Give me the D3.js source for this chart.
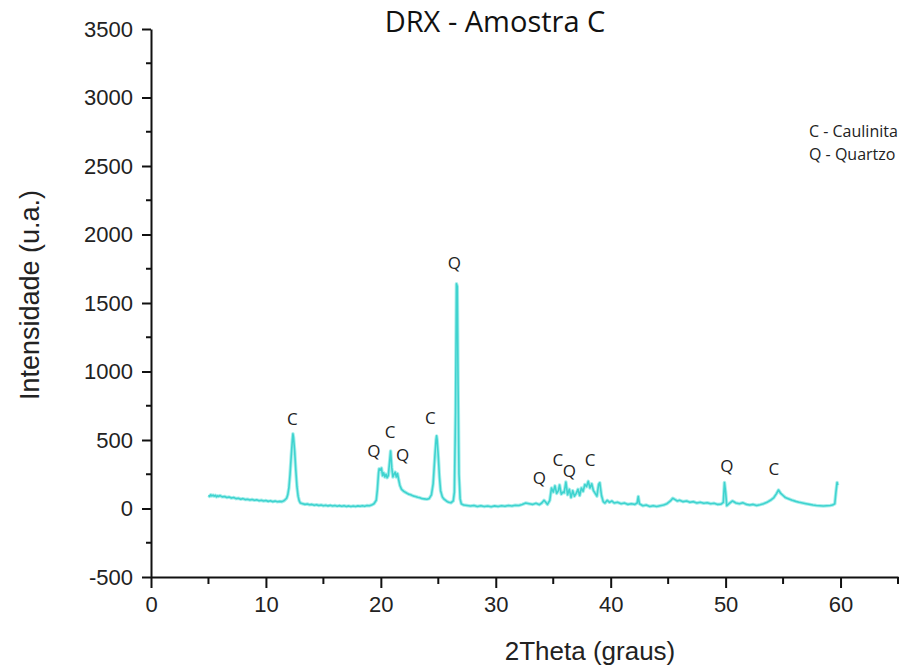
<!DOCTYPE html>
<html>
<head>
<meta charset="utf-8">
<script src="https://cdn.jsdelivr.net/npm/d3@7"></script>
<style>
  body { margin: 0; background: #fff; }
  svg { display: block; }
</style>
</head>
<body>
<svg width="924" height="668"></svg>
<script>
// DRX pattern of sample C
const twoTheta = [
  5.0, 5.1, 5.2, 5.3, 5.4, 5.5, 5.6, 5.7, 5.8, 5.9, 6.0, 6.2, 6.4, 6.6, 6.8, 7.0, 7.2, 7.4, 7.6, 7.8,
  8.0, 8.2, 8.4, 8.6, 8.8, 9.0, 9.2, 9.4, 9.6, 9.8, 10.0, 10.2, 10.4, 10.6, 10.8, 11.0, 11.2, 11.4, 11.6, 11.8,
  11.9, 12.0, 12.1, 12.2, 12.3, 12.35, 12.4, 12.5, 12.6, 12.7, 12.8, 12.9, 13.0, 13.2, 13.4, 13.6, 13.8, 14.0, 14.2, 14.4,
  14.6, 14.8, 15.0, 15.2, 15.4, 15.6, 15.8, 16.0, 16.2, 16.4, 16.6, 16.8, 17.0, 17.2, 17.4, 17.6, 17.8, 18.0, 18.2, 18.4,
  18.6, 18.8, 19.0, 19.2, 19.4, 19.6, 19.7, 19.8, 19.85, 19.95, 20.05, 20.15, 20.25, 20.35, 20.45, 20.55, 20.65, 20.75, 20.85, 20.95,
  21.05, 21.15, 21.25, 21.35, 21.45, 21.55, 21.65, 21.8, 22.0, 22.2, 22.4, 22.6, 22.8, 23.0, 23.2, 23.4, 23.6, 23.8, 24.0, 24.2,
  24.4, 24.55, 24.7, 24.8, 24.85, 24.9, 25.0, 25.1, 25.2, 25.35, 25.5, 25.7, 25.9, 26.1, 26.3, 26.4, 26.5, 26.58, 26.65, 26.72,
  26.8, 26.9, 27.0, 27.2, 27.5, 27.8, 28.1, 28.4, 28.7, 29.0, 29.3, 29.6, 29.9, 30.2, 30.5, 30.8, 31.1, 31.4, 31.7, 32.0,
  32.3, 32.6, 32.9, 33.2, 33.5, 33.8, 34.0, 34.2, 34.35, 34.5, 34.7, 34.85, 35.0, 35.15, 35.3, 35.45, 35.55, 35.7, 35.85, 35.95,
  36.1, 36.25, 36.4, 36.55, 36.7, 36.85, 37.0, 37.15, 37.3, 37.45, 37.6, 37.75, 37.9, 38.05, 38.2, 38.35, 38.5, 38.65, 38.8, 38.95,
  39.05, 39.2, 39.35, 39.5, 39.7, 39.9, 40.1, 40.3, 40.6, 40.9, 41.2, 41.5, 41.8, 42.1, 42.3, 42.4, 42.5, 42.8, 43.1, 43.4,
  43.7, 44.0, 44.3, 44.6, 44.9, 45.2, 45.4, 45.6, 45.8, 46.0, 46.3, 46.6, 46.9, 47.2, 47.5, 47.8, 48.1, 48.4, 48.7, 49.0,
  49.3, 49.6, 49.8, 49.9, 50.0, 50.1, 50.3, 50.6, 50.9, 51.2, 51.5, 51.8, 52.1, 52.4, 52.7, 53.0, 53.3, 53.6, 53.9, 54.2,
  54.4, 54.6, 54.8, 55.0, 55.2, 55.5, 55.8, 56.1, 56.4, 56.7, 57.0, 57.3, 57.6, 57.9, 58.2, 58.5, 58.8, 59.1, 59.3, 59.5,
  59.6, 59.7, 59.75
];
const intensity = [
  95, 88, 100, 92, 98, 90, 96, 85, 92, 88, 94, 85, 88, 80, 84, 76, 80, 72, 75, 68,
  72, 65, 68, 62, 66, 60, 63, 57, 60, 55, 58, 52, 56, 50, 54, 49, 52, 50, 58, 75,
  100, 150, 250, 380, 500, 545, 520, 420, 280, 160, 90, 55, 40, 35, 30, 33, 27, 30, 24, 28,
  22, 26, 20, 24, 19, 23, 18, 22, 17, 21, 16, 20, 15, 19, 14, 18, 15, 19, 16, 20,
  17, 22, 20, 26, 35, 60, 140, 260, 290, 280, 295, 240, 260, 230, 250, 225, 240, 330, 420, 300,
  230, 250, 265, 230, 255, 210, 170, 140, 125, 115, 105, 100, 92, 88, 82, 78, 72, 70, 68, 72,
  100, 180, 380, 500, 530, 500, 380, 230, 130, 85, 68, 55, 45, 42, 55, 120, 700, 1640, 1620, 900,
  250, 70, 35, 25, 22, 18, 22, 15, 20, 14, 18, 13, 19, 15, 20, 16, 22, 18, 24, 22,
  30, 40, 35, 30, 38, 28, 40, 60, 45, 30, 60, 150, 120, 165, 110, 130, 172, 105, 120, 115,
  193, 100, 140, 80, 130, 90, 110, 140, 95, 150, 125, 175, 160, 198, 150, 180, 130, 110, 90, 175,
  188, 95, 50, 40, 60, 45, 55, 40, 45, 35, 40, 30, 35, 30, 40, 88, 35, 20, 25, 15,
  20, 15, 20, 25, 35, 55, 75, 65, 55, 60, 50, 55, 45, 50, 40, 45, 38, 42, 35, 38,
  30, 32, 45, 190, 120, 20, 35, 55, 40, 35, 42, 30, 25, 30, 22, 28, 35, 45, 60, 80,
  105, 135, 110, 95, 80, 70, 60, 52, 45, 40, 35, 30, 25, 22, 20, 18, 20, 22, 25, 35,
  120, 190, 170
];

// peak markers: phase letter, 2theta position, intensity of the label
const peakNames = ["C", "Q", "C", "Q", "C", "Q", "Q", "C", "Q", "C", "Q", "C"];
const peakTheta = [12.3, 19.4, 20.8, 21.9, 24.3, 26.4, 33.8, 35.4, 36.4, 38.2, 50.1, 54.2];
const peakLevel = [640, 410, 550, 380, 650, 1780, 210, 340, 260, 340, 300, 280];

const legendLines = ["C - Caulinita", "Q - Quartzo"];

const xTicks = [0, 10, 20, 30, 40, 50, 60];
const yTicks = [-500, 0, 500, 1000, 1500, 2000, 2500, 3000, 3500];

const svg = d3.select("svg");

const x = d3.scaleLinear().domain([0, 65]).range([151, 898]);
const y = d3.scaleLinear().domain([-500, 3500]).range([577, 29]);

const pts = twoTheta.map((t, i) => [t, intensity[i]]);
const line = d3.line().x(d => x(d[0])).y(d => y(d[1]));

// curve, with a pale halo like the scanned plot
svg.append("path")
  .datum(pts)
  .attr("fill", "none")
  .attr("stroke", "#a8efec")
  .attr("stroke-width", 3.5)
  .attr("stroke-linejoin", "round")
  .attr("d", line);

svg.append("path")
  .datum(pts)
  .attr("fill", "none")
  .attr("stroke", "#3fd3cf")
  .attr("stroke-width", 1.6)
  .attr("stroke-linejoin", "round")
  .attr("d", line);

// axes
const xAxis = svg.append("g")
  .attr("transform", "translate(0," + y(-500) + ")")
  .call(d3.axisBottom(x).tickValues(xTicks).tickFormat(d => String(d))
    .tickSize(11).tickSizeOuter(0).tickPadding(8));
xAxis.append("g").selectAll("line")
  .data(d3.range(5, 66, 10))
  .join("line")
    .attr("x1", d => x(d)).attr("x2", d => x(d))
    .attr("y1", 0).attr("y2", 7)
    .attr("stroke", "#111").attr("stroke-width", 2);

const yAxis = svg.append("g")
  .attr("transform", "translate(" + x(0) + ",0)")
  .call(d3.axisLeft(y).tickValues(yTicks).tickFormat(d => String(d))
    .tickSize(9).tickSizeOuter(0).tickPadding(9));
yAxis.append("g").selectAll("line")
  .data(d3.range(-250, 3500, 500))
  .join("line")
    .attr("x1", -5).attr("x2", 0)
    .attr("y1", d => y(d)).attr("y2", d => y(d))
    .attr("stroke", "#111").attr("stroke-width", 2);

svg.selectAll(".domain").attr("stroke", "#111").attr("stroke-width", 2);
svg.selectAll(".tick line").attr("stroke", "#111").attr("stroke-width", 2);
svg.selectAll(".tick text")
  .attr("font-family", "'Liberation Sans', Arial, sans-serif")
  .attr("font-size", 22)
  .attr("fill", "#222");

// titles
svg.append("text")
  .attr("x", 495).attr("y", 32)
  .attr("text-anchor", "middle")
  .attr("font-family", "'Open Sans', sans-serif")
  .attr("font-size", 29)
  .attr("fill", "#111")
  .text("DRX - Amostra C");

svg.append("text")
  .attr("x", 590).attr("y", 660)
  .attr("text-anchor", "middle")
  .attr("font-family", "'Liberation Sans', Arial, sans-serif")
  .attr("font-size", 26)
  .attr("fill", "#222")
  .text("2Theta (graus)");

svg.append("text")
  .attr("transform", "translate(39,295) rotate(-90)")
  .attr("text-anchor", "middle")
  .attr("font-family", "'Liberation Sans', Arial, sans-serif")
  .attr("font-size", 27)
  .attr("fill", "#222")
  .text("Intensidade (u.a.)");

// peak letters
svg.append("g").selectAll("text")
  .data(peakNames)
  .join("text")
    .attr("x", (d, i) => x(peakTheta[i]))
    .attr("y", (d, i) => y(peakLevel[i]))
    .attr("text-anchor", "middle")
    .attr("dominant-baseline", "middle")
    .attr("font-family", "'Open Sans', sans-serif")
    .attr("font-size", 17)
    .attr("fill", "#222")
    .text(d => d);

// legend text
svg.append("g").selectAll("text")
  .data(legendLines)
  .join("text")
    .attr("x", 809)
    .attr("y", (d, i) => 137 + i * 23)
    .attr("font-family", "'Open Sans', sans-serif")
    .attr("font-size", 16)
    .attr("fill", "#222")
    .text(d => d);
</script>
</body>
</html>
